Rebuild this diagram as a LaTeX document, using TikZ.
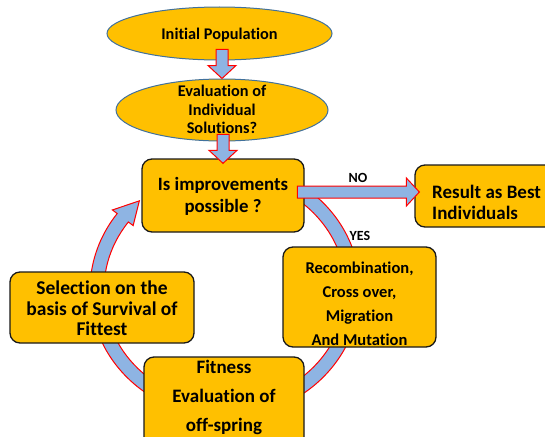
\documentclass[tikz,border=0pt]{standalone}
\usepackage{fontspec}
\setmainfont{Carlito}[Ligatures=CommonOff]
\usetikzlibrary{calc,shapes.geometric}
\definecolor{gold}{HTML}{FFC000}
\definecolor{ellborder}{HTML}{41719C}
\definecolor{arrblue}{HTML}{8EB4E3}
\begin{document}
\begin{tikzpicture}[x=1pt,y=-1pt,
  ell/.style={ellipse, draw=ellborder, line width=1pt, fill=gold, inner sep=0pt},
  box/.style={rectangle, draw=black!90, line width=1.3pt, fill=gold, rounded corners=10pt, inner sep=0pt},
  txt/.style={align=center, inner sep=0pt},
  blk/.style={draw=red, line width=1pt, fill=arrblue, line join=miter}]
\useasboundingbox (0,0) rectangle (545,436);
\clip (0,0) rectangle (545,436);

% circular arrow
\coordinate (C) at (225,290);
\filldraw[blk] ($(C)+(-55:135 and 127)$) arc[start angle=-55, end angle=217, x radius=135, y radius=127]
  -- ($(C)+(217:141 and 133)$) -- ($(C)+(228:128 and 120)$) -- ($(C)+(217:115 and 107)$)
  -- ($(C)+(217:121 and 113)$) arc[start angle=217, end angle=-55, x radius=121, y radius=113] -- cycle;

% ellipses
\node[ell, minimum width=225, minimum height=53] (init) at (219.5,33.5) {};
\node[ell, minimum width=212, minimum height=62] (eval) at (222,110) {};
\node[txt, font=\bfseries\fontsize{16.3}{18.5}\selectfont] (initT) at (219.5,35) {Initial Population};
\node[txt, font=\bfseries\fontsize{16.3}{18.5}\selectfont] (evalT) at (222,109.5) {Evaluation of\\Individual\\Solutions?};

% boxes
\node[box, minimum width=162, minimum height=73] (isimp) at (223,195.5) {};
\node[box, minimum width=145, minimum height=62] (result) at (487.5,196) {};
\node[box, minimum width=153, minimum height=100] (recomb) at (359.5,297) {};
\node[box, minimum width=184, minimum height=71] (sel) at (102,307.5) {};
\node[box, minimum width=160, minimum height=93] (fit) at (224,403.5) {};

\node[txt, font=\bfseries\fontsize{18.8}{22}\selectfont] (isimpT) at (223,196) {Is improvements\\possible ?};
\node[txt, align=left, anchor=west, font=\bfseries\fontsize{19}{21}\selectfont] (resultT) at (432,202.5) {Result as Best\\Individuals};
\node[txt, font=\bfseries\fontsize{16.5}{24}\selectfont] (recombT) at (359.5,303.5) {Recombination,\\Cross over,\\Migration\\And Mutation};
\node[txt, font=\bfseries\fontsize{19.5}{20.5}\selectfont] (selT) at (102,308.5) {Selection on the\\basis of Survival of\\Fittest};
\node[txt, font=\bfseries\fontsize{19}{29}\selectfont] (fitT) at (224,397) {Fitness\\Evaluation of\\off-spring};

% block arrows
\coordinate (t1) at (eval.north);
\coordinate (t2) at ($(isimp.north)+(0,5)$);
\coordinate (t3) at ($(result.west)+(5,-4)$);
\draw[blk, shift={(t1)}] (-6,-29) -- (6,-29) -- (6,-13) -- (14,-13) -- (0,0) -- (-14,-13) -- (-6,-13) -- cycle;
\draw[blk, shift={(t2)}] (-6,-29) -- (6,-29) -- (6,-13) -- (14,-13) -- (0,0) -- (-14,-13) -- (-6,-13) -- cycle;
\draw[blk, shift={(t3)}] (-122,-6) -- (-13,-6) -- (-13,-14) -- (0,0) -- (-13,14) -- (-13,6) -- (-122,6) -- cycle;

\node[txt, font=\bfseries\fontsize{14}{16}\selectfont] (no) at (358,178) {NO};
\node[txt, font=\bfseries\fontsize{14}{16}\selectfont] (yes) at (360,236) {YES};
\end{tikzpicture}
\end{document}
